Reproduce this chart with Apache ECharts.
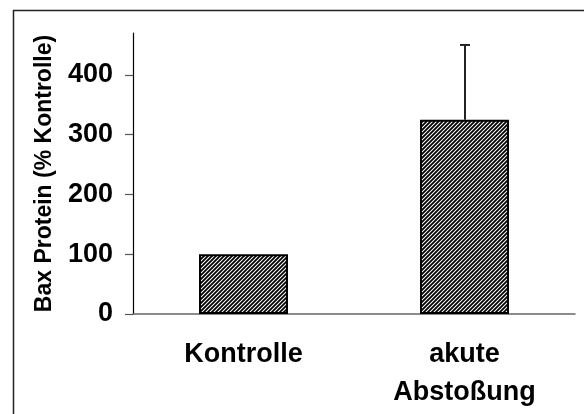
<!DOCTYPE html>
<html>
<head>
<meta charset="utf-8">
<script src="https://cdn.jsdelivr.net/npm/echarts@6/dist/echarts.min.js"></script>
<style>
  html, body { margin: 0; padding: 0; background: #fff; }
  #chart { width: 584px; height: 414px; }
</style>
</head>
<body>
<div id="chart"></div>
<script>
var categories = ['Kontrolle', 'akute\nAbstoßung'];
var baxValues = [100, 325];
var baxErrors = [0, 125];
var yTicks = [0, 100, 200, 300, 400];

// diagonal hatch tile
var makeHatch = function () {
    var c = document.createElement('canvas');
    c.width = 4;
    c.height = 4;
    var ctx = c.getContext('2d');
    ctx.fillStyle = '#fff';
    ctx.fillRect(0, 0, 4, 4);
    ctx.strokeStyle = '#000';
    ctx.lineWidth = 1.8;
    ctx.beginPath();
    ctx.moveTo(-1, 5); ctx.lineTo(5, -1);
    ctx.moveTo(-1, 1); ctx.lineTo(1, -1);
    ctx.moveTo(3, 5); ctx.lineTo(5, 3);
    ctx.stroke();
    return c;
};

var font = 'Liberation Sans, Arial, sans-serif';
var myChart = echarts.init(document.getElementById('chart'), null, { renderer: 'canvas' });

var option = {
    animation: false,
    backgroundColor: '#fff',
    grid: { left: 133, right: 9, top: 33, bottom: 100 },
    graphic: [{
        type: 'rect',
        shape: { x: 13.5, y: 10.5, width: 700, height: 600 },
        style: { fill: 'none', stroke: '#222', lineWidth: 1.5 },
        silent: true
    }],
    xAxis: {
        type: 'category',
        data: categories,
        axisLine: { lineStyle: { color: '#666', width: 1.5 } },
        axisTick: { show: false },
        axisLabel: {
            color: '#000', fontFamily: font, fontWeight: 'bold', fontSize: 27,
            lineHeight: 38, margin: 22, verticalAlign: 'top'
        }
    },
    yAxis: {
        type: 'value',
        min: 0,
        max: 470,
        name: 'Bax Protein (% Kontrolle)',
        nameLocation: 'middle',
        nameGap: 77,
        nameTextStyle: { color: '#000', fontFamily: font, fontWeight: 'bold', fontSize: 23 },
        splitLine: { show: false },
        axisLine: { show: true, lineStyle: { color: '#000', width: 1.2 } },
        axisTick: { show: true, length: 8, customValues: yTicks, lineStyle: { color: '#555', width: 1.2 } },
        axisLabel: {
            customValues: yTicks,
            color: '#000', fontFamily: font, fontWeight: 'bold', fontSize: 27, margin: 20
        }
    },
    series: [{
        type: 'bar',
        data: baxValues,
        barWidth: 89,
        itemStyle: {
            color: { image: makeHatch(), repeat: 'repeat' },
            borderColor: '#000',
            borderWidth: 2
        }
    }, {
        type: 'custom',
        data: baxValues.map(function (v, i) { return [i, v, v + baxErrors[i]]; }),
        renderItem: function (params, api) {
            if (api.value(2) <= api.value(1)) return null;
            var low = api.coord([api.value(0), api.value(1)]);
            var high = api.coord([api.value(0), api.value(2)]);
            var x = Math.round(low[0]);
            var st = { stroke: '#222', lineWidth: 2 };
            return {
                type: 'group',
                children: [
                    { type: 'line', shape: { x1: x, y1: low[1], x2: x, y2: high[1] }, style: st },
                    { type: 'line', shape: { x1: x - 5, y1: high[1], x2: x + 5, y2: high[1] }, style: st }
                ]
            };
        },
        z: 3
    }]
};

myChart.setOption(option);
</script>
</body>
</html>
